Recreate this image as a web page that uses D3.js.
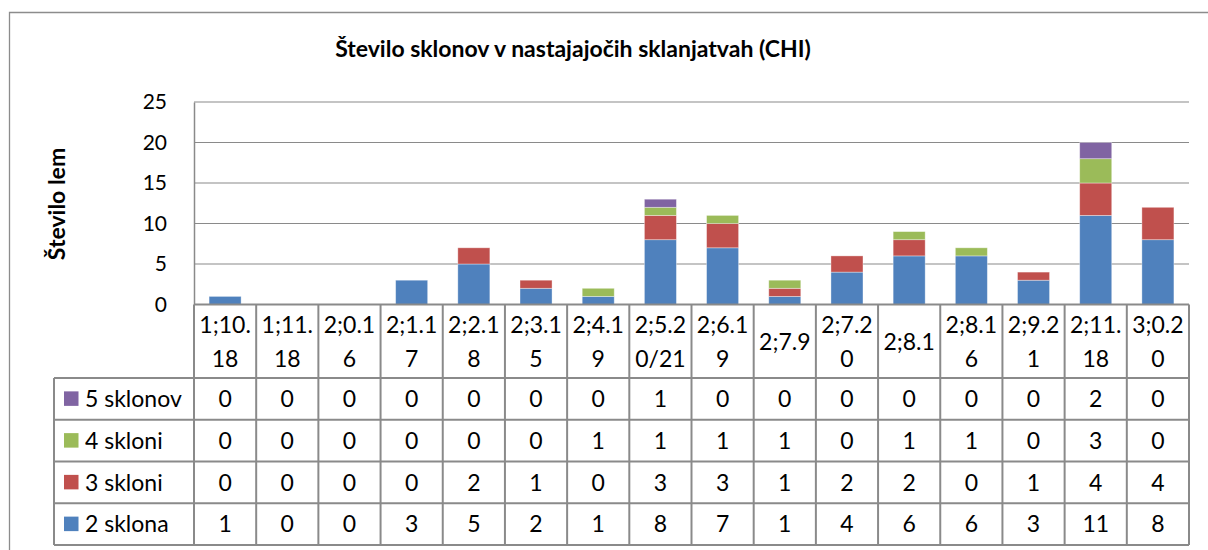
<!DOCTYPE html>
<html>
<head>
<meta charset="utf-8">
<script src="https://cdn.jsdelivr.net/npm/d3@7"></script>
<style>
  html, body { margin: 0; background: #fff; overflow: hidden; }
  svg { display: block; }
  text { font-family: Lato, "Open Sans", sans-serif; fill: #000; }
</style>
</head>
<body>
<div id="main"></div>
<script>
// data
var categories = ["1;10.18", "1;11.18", "2;0.16", "2;1.17", "2;2.18", "2;3.15", "2;4.19", "2;5.20/21",
                  "2;6.19", "2;7.9", "2;7.20", "2;8.1", "2;8.16", "2;9.21", "2;11.18", "3;0.20"]
var seriesNames = ["2 sklona", "3 skloni", "4 skloni", "5 sklonov"]
var sklona2 = [1, 0, 0, 3, 5, 2, 1, 8, 7, 1, 4, 6, 6, 3, 11, 8]
var skloni3 = [0, 0, 0, 0, 2, 1, 0, 3, 3, 1, 2, 2, 0, 1, 4, 4]
var skloni4 = [0, 0, 0, 0, 0, 0, 1, 1, 1, 1, 0, 1, 1, 0, 3, 0]
var sklonov5 = [0, 0, 0, 0, 0, 0, 0, 1, 0, 0, 0, 0, 0, 0, 2, 0]
var yTicks = [0, 5, 10, 15, 20, 25]

var colors = ["#4F81BD", "#C0504D", "#9BBB59", "#8064A2"]
var seriesValues = [sklona2, skloni3, skloni4, sklonov5]

var dimensions = {
  width: 1208,
  height: 550,
  plotLeft: 194,
  plotRight: 1189,
  plotTop: 102,
  plotBottom: 304.5,
  headerBottom: 378,
  rowHeight: 41.75,
  legendLeft: 54
}

var rows = categories.map(function(c, i) {
  var r = { cat: c }
  seriesNames.forEach(function(s, j) { r[s] = seriesValues[j][i] })
  return r
})

var SVG = d3.select("#main")
            .append("svg")
            .attr("width", dimensions.width)
            .attr("height", dimensions.height)

// chart border, only the left and top edges are inside the picture
SVG.append("path")
   .attr("d", "M9.5,560 V12.5 H1220")
   .attr("fill", "none")
   .attr("stroke", "#8c8c8c")
   .attr("stroke-width", 1.3)

var cellX = d3.scaleBand()
              .domain(categories)
              .range([dimensions.plotLeft, dimensions.plotRight])

var barX = d3.scaleBand()
             .domain(categories)
             .range([dimensions.plotLeft, dimensions.plotRight])
             .paddingInner(0.485)
             .paddingOuter(0.2425)

var y = d3.scaleLinear()
          .domain([0, 25])
          .range([dimensions.plotBottom, dimensions.plotTop])

// gridlines
SVG.append("g")
   .selectAll("line")
   .data(yTicks)
   .enter()
   .append("line")
   .attr("x1", dimensions.plotLeft)
   .attr("x2", dimensions.plotRight)
   .attr("y1", function(d) { return y(d) })
   .attr("y2", function(d) { return y(d) })
   .attr("stroke", "#8a8a8a")
   .attr("stroke-width", 1.2)

// y axis
var yAxis = SVG.append("g")
               .attr("transform", "translate(" + dimensions.plotLeft + ",0)")
               .call(d3.axisLeft(y).tickValues(yTicks).tickSize(0).tickPadding(27))
yAxis.select(".domain").attr("stroke", "#8a8a8a").attr("stroke-width", 1.5)
yAxis.selectAll("text")
     .style("font-size", "21px")
     .style("font-family", "Lato, 'Open Sans', sans-serif")
     .attr("fill", "#000")

// stacked bars
var stack = d3.stack().keys(seriesNames)(rows)

SVG.append("g")
   .selectAll("g")
   .data(stack)
   .enter()
   .append("g")
   .attr("fill", function(d, i) { return colors[i] })
   .selectAll("rect")
   .data(function(d) { return d.filter(function(p) { return p[1] > p[0] }) })
   .enter()
   .append("rect")
   .attr("x", function(d) { return barX(d.data.cat) })
   .attr("width", barX.bandwidth())
   .attr("y", function(d) { return y(d[1]) })
   .attr("height", function(d) { return y(d[0]) - y(d[1]) })
   .attr("stroke", "rgba(255,255,255,0.45)")
   .attr("stroke-width", 0.8)

// data table
var table = SVG.append("g")
var lineColor = "#8a8a8a"
var tableBottom = dimensions.headerBottom + dimensions.rowHeight * 4

// horizontal lines
table.selectAll(".hline")
     .data(d3.range(5))
     .enter()
     .append("line")
     .attr("x1", dimensions.legendLeft)
     .attr("x2", dimensions.plotRight)
     .attr("y1", function(d) { return dimensions.headerBottom + d * dimensions.rowHeight })
     .attr("y2", function(d) { return dimensions.headerBottom + d * dimensions.rowHeight })
     .attr("stroke", lineColor).attr("stroke-width", 2)

table.append("line")
     .attr("x1", dimensions.plotLeft).attr("x2", dimensions.plotRight)
     .attr("y1", dimensions.plotBottom).attr("y2", dimensions.plotBottom)
     .attr("stroke", lineColor).attr("stroke-width", 2)

// vertical lines
var edges = categories.map(function(c) { return cellX(c) }).concat([dimensions.plotRight])
table.selectAll(".vline")
     .data(edges)
     .enter()
     .append("line")
     .attr("x1", function(d) { return d })
     .attr("x2", function(d) { return d })
     .attr("y1", dimensions.plotBottom)
     .attr("y2", tableBottom)
     .attr("stroke", lineColor).attr("stroke-width", 2)

table.append("line")
     .attr("x1", dimensions.legendLeft).attr("x2", dimensions.legendLeft)
     .attr("y1", dimensions.headerBottom).attr("y2", tableBottom)
     .attr("stroke", lineColor).attr("stroke-width", 2)

// header labels, wrapped after 5 characters
var headerMid = (dimensions.plotBottom + dimensions.headerBottom) / 2
categories.forEach(function(c) {
  var parts = c.length > 5 ? [c.slice(0, 5), c.slice(5)] : [c]
  var t = table.append("text")
               .attr("text-anchor", "middle")
               .style("font-size", "23px")
  parts.forEach(function(p, k) {
    var off = parts.length == 1 ? 0 : (k == 0 ? -17 : 17)
    t.append("tspan")
     .attr("x", cellX(c) + cellX.bandwidth() / 2)
     .attr("y", headerMid + off)
     .attr("dy", "0.36em")
     .text(p)
  })
})

// value rows, top row is the last series
var rowOrder = [3, 2, 1, 0]
rowOrder.forEach(function(s, r) {
  var cy = dimensions.headerBottom + (r + 0.5) * dimensions.rowHeight
  table.append("rect")
       .attr("x", 64).attr("y", cy - 7.5)
       .attr("width", 14.5).attr("height", 14.5)
       .attr("fill", colors[s])
  table.append("text")
       .attr("x", 85).attr("y", cy)
       .attr("dy", "0.36em")
       .style("font-size", "23px")
       .text(seriesNames[s])
  table.selectAll(".v" + s)
       .data(seriesValues[s])
       .enter()
       .append("text")
       .attr("x", function(d, i) { return cellX(categories[i]) + cellX.bandwidth() / 2 })
       .attr("y", cy)
       .attr("dy", "0.36em")
       .attr("text-anchor", "middle")
       .style("font-size", "23px")
       .text(function(d) { return d })
})

// titles
SVG.append("text")
   .attr("x", 573).attr("y", 57)
   .attr("text-anchor", "middle")
   .style("font-size", "23px")
   .style("font-weight", "bold")
   .text("Število sklonov v nastajajočih sklanjatvah (CHI)")

SVG.append("text")
   .attr("transform", "translate(65,204) rotate(-90)")
   .attr("text-anchor", "middle")
   .style("font-size", "23px")
   .style("font-weight", "bold")
   .text("Število lem")
</script>
</body>
</html>
